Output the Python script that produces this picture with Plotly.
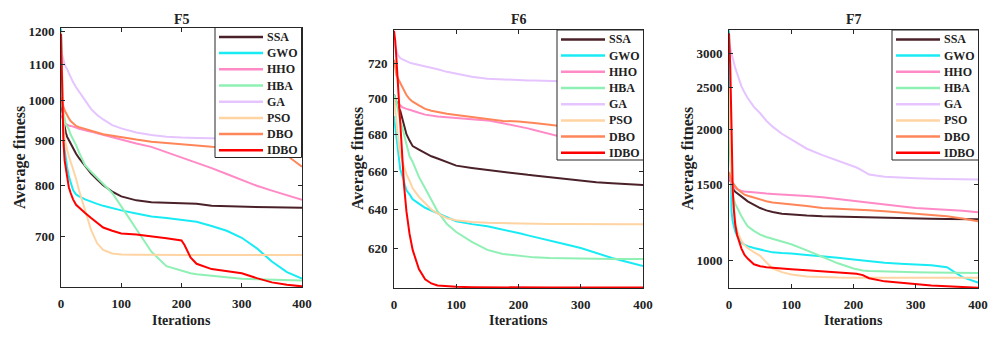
import numpy as np
import plotly.graph_objects as go

# algorithm names and line colours
ALGOS = ['SSA', 'GWO', 'HHO', 'HBA', 'GA', 'PSO', 'DBO', 'IDBO']
COLORS = ['#4a2129', '#19ebf4', '#ff8ac6', '#8ff0b4', '#e5c4ff', '#ffd4a3', '#ff8659', '#ff0000']

ITERS = [0, 2, 4, 6, 8, 10, 13, 16, 20, 25, 30, 40, 50, 60, 70, 85, 100,
         125, 150, 175, 200, 205, 215, 225, 250, 275, 300, 325, 350, 375, 400]
X_TICKS = [0, 100, 200, 300, 400]

# ---- F5 ----
F5_SSA = [1000, 975, 955, 935, 920, 910, 902, 893, 882, 870, 860, 843, 826, 813, 801, 788, 778,
          770, 766, 765, 764, 764, 763.5, 763, 759, 758, 757.5, 757, 756, 755.5, 755]
F5_GWO = [1208, 1000, 920, 880, 855, 841, 820, 805, 791, 782, 778, 772, 767, 763, 759, 754, 750,
          744, 738, 735, 732, 731.5, 730, 728, 720, 711, 698, 679, 656, 638, 627]
F5_HHO = [963, 955, 948, 943, 940, 938, 937, 936, 935, 932, 929, 926, 922, 918, 914, 908, 902,
          894, 886, 874, 862, 860, 855, 850, 838, 825, 812, 800, 790, 780, 771]
F5_HBA = [1000, 985, 965, 950, 940, 935, 928, 915, 905, 890, 873, 844, 830, 817, 803, 785, 758,
          714, 673, 648, 640, 638, 636, 634.5, 632, 629, 627, 626, 625, 624.5, 624]
F5_GA = [1140, 1125, 1110, 1100, 1092, 1087, 1075, 1063, 1050, 1036, 1023, 1001, 978, 963, 952, 938, 930,
         920, 914, 910, 908, 908, 907, 907, 906, 905, 905, 904, 904, 903, 902]
F5_PSO = [1200, 1050, 950, 905, 890, 880, 865, 852, 838, 815, 790, 750, 712, 688, 676, 670, 668,
          667.5, 667, 667, 667, 667, 667, 667, 667, 667, 667, 667, 667, 667, 667]
F5_DBO = [1010, 995, 985, 975, 968, 962, 955, 948, 942, 936, 933, 928, 924, 920, 916, 912, 909,
          903, 898, 895, 891, 891, 890, 889, 886, 884, 882, 879, 875, 866, 841]
F5_IDBO = [1192, 1000, 900, 855, 835, 815, 797, 785, 772, 761, 755, 745, 735, 726, 717, 711, 706,
           704, 701, 697, 693, 685, 663, 652, 643, 639, 636, 628, 621, 617, 614.5]

# ---- F6 ----
F6_SSA = [702, 700, 697, 695, 694, 693, 689, 685, 680, 676.5, 673.5, 671.6, 669.7, 668, 666.8, 664.8, 663,
          661.8, 660.7, 659.5, 658.5, 658.4, 658.1, 657.8, 656.8, 656, 655, 654.2, 653.6, 653.1, 652.7]
F6_GWO = [690, 684, 676, 670, 665, 661, 658, 655, 650, 647.8, 645.3, 643, 640.9, 639.5, 638, 636, 634,
          632.5, 631.4, 629.8, 628, 627.6, 626.8, 626, 624, 622.3, 620.5, 618, 615.5, 613.5, 611.5]
F6_HHO = [697, 696.5, 696, 696, 696, 696, 695, 694.5, 694, 693.5, 692.8, 691.8, 690.8, 690.2, 689.8, 689.4, 689,
          688.3, 687.6, 686, 684.5, 684.1, 683.2, 682.3, 680, 678, 676.5, 675, 674, 673, 672]
F6_HBA = [702, 700, 698, 694, 690, 687, 684, 680, 674, 668, 665, 657, 651, 645, 639, 632.5, 628.5,
          623.5, 619.5, 617.5, 616.6, 616.4, 616, 615.8, 615.5, 615.3, 615.2, 615.1, 615, 615, 615]
F6_GA = [733, 730, 727, 725, 724, 723, 722.3, 721.7, 721, 720.3, 719.8, 719, 718.4, 717.6, 716.5, 715, 714,
         712.2, 711, 710.5, 710.2, 710.2, 710.1, 710, 709.8, 709.5, 709.2, 709, 708.8, 708.5, 708.3]
F6_PSO = [700, 693, 685, 678, 673, 669, 666, 662, 658.5, 655, 651, 646.5, 643, 640, 638, 635.5, 634.5,
          633.6, 633.2, 633, 632.8, 632.8, 632.7, 632.7, 632.6, 632.6, 632.5, 632.5, 632.5, 632.5, 632.5]
F6_DBO = [722, 716, 713, 711.5, 710, 709, 706.5, 704, 701.8, 699.5, 698, 696, 694, 693, 692.2, 691.3, 690.6,
          689.5, 688, 687.3, 687, 686.9, 686.5, 686.2, 685.2, 684, 683, 682, 681, 680.5, 680]
F6_IDBO = [739, 733, 722, 710, 697, 684, 663.5, 653, 639, 627.5, 619.5, 610, 605, 603, 602, 601.6, 601.4,
           601.2, 601.1, 601.05, 601, 601, 601, 601, 601, 601, 601, 601, 601, 601, 601]

# ---- F7 ----
F7_SSA = [1560, 1530, 1500, 1470, 1450, 1440, 1428, 1418, 1405, 1387, 1369, 1343, 1321, 1305, 1293, 1282, 1276,
          1270, 1265, 1262, 1260, 1260, 1259, 1257, 1253, 1251, 1249, 1248, 1247, 1247, 1244]
F7_GWO = [3390, 2200, 1300, 1230, 1190, 1165, 1140, 1120, 1100, 1087, 1079, 1068, 1060, 1052, 1044, 1040, 1038,
          1030, 1023, 1014, 1005, 1003, 1000, 996, 988, 983, 979, 975, 965, 915, 889]
F7_HHO = [1563, 1530, 1505, 1490, 1478, 1469, 1460, 1453, 1447, 1443, 1440, 1435, 1430, 1427, 1424, 1421, 1418,
          1408, 1398, 1384, 1369, 1367, 1362, 1357, 1345, 1333, 1321, 1315, 1310, 1302, 1292]
F7_HBA = [1900, 1700, 1500, 1420, 1380, 1350, 1325, 1295, 1265, 1230, 1199, 1170, 1147, 1133, 1122, 1107, 1090,
          1055, 1018, 985, 958, 954, 948, 945, 942, 940, 939, 938, 937, 936, 936]
F7_GA = [3170, 3080, 3000, 2900, 2830, 2780, 2700, 2620, 2520, 2440, 2370, 2260, 2185, 2100, 2035, 1960, 1900,
         1810, 1750, 1700, 1648, 1638, 1610, 1578, 1560, 1552, 1547, 1543, 1541, 1539, 1537]
F7_PSO = [2500, 1900, 1600, 1420, 1300, 1230, 1170, 1140, 1110, 1085, 1068, 1045, 1025, 990, 958, 940, 928,
          918, 914, 913, 912.5, 912.5, 912, 912, 912, 912, 912, 912, 912, 912, 912]
F7_DBO = [1600, 1560, 1530, 1510, 1495, 1482, 1465, 1450, 1433, 1418, 1410, 1395, 1381, 1370, 1360, 1354, 1350,
          1335, 1321, 1317, 1314, 1313, 1310, 1306, 1298, 1290, 1282, 1273, 1264, 1250, 1231]
F7_IDBO = [3340, 2800, 2050, 1450, 1300, 1210, 1145, 1105, 1065, 1030, 1010, 980, 970, 965, 962, 958, 955,
           950, 945, 940, 935, 932, 925, 910, 895, 888, 882, 876, 872, 868, 865]

F5_TICKS = [700, 800, 900, 1000, 1100, 1200]
F6_TICKS = [620, 640, 660, 680, 700, 720]
F7_TICKS = [1000, 1500, 2000, 2500, 3000]

W, H = 1006, 348
FONT = 'Liberation Serif'
INK = '#262626'


def px(x):
    return x / W


def py(y):
    return 1 - y / H


def label(text, x, y, size, **kw):
    return dict(text=text, x=px(x), y=py(y), xref='paper', yref='paper', showarrow=False,
                xanchor=kw.pop('xanchor', 'center'), yanchor='middle',
                font=dict(family=FONT, size=size, color='#222', weight='bold'), **kw)


# title, series, y range, y ticks, plot box (left, right, top, bottom) in px, y-title x, legend top-left
panels = [
    ('F5', [F5_SSA, F5_GWO, F5_HHO, F5_HBA, F5_GA, F5_PSO, F5_DBO, F5_IDBO], (613.5, 1210), F5_TICKS,
     (61, 302, 28, 287), 19.5, (215, 27.5)),
    ('F6', [F6_SSA, F6_GWO, F6_HHO, F6_HBA, F6_GA, F6_PSO, F6_DBO, F6_IDBO], (600.8, 739.5), F6_TICKS,
     (394, 643, 30, 288), 358, (557, 30)),
    ('F7', [F7_SSA, F7_GWO, F7_HHO, F7_HBA, F7_GA, F7_PSO, F7_DBO, F7_IDBO], (864, 3400), F7_TICKS,
     (729, 978, 30, 288), 688, (892, 30)),
]

axis_style = dict(showline=True, linecolor=INK, linewidth=1, mirror='ticks', ticks='inside',
                  ticklen=4, tickcolor=INK, showgrid=False, zeroline=False, automargin=False,
                  tickfont=dict(family=FONT, size=13, color='#222', weight='bold'))

fig = go.Figure()
shapes = []
annotations = []

for k, (title, series, yr, yticks, (x0, x1, y0, y1), ytx, (lx, ly)) in enumerate(panels):
    n = '' if k == 0 else str(k + 1)
    for name, color, vals in zip(ALGOS, COLORS, series):
        fig.add_trace(go.Scatter(x=ITERS, y=vals, mode='lines', name=name,
                                 line=dict(color=color, width=2), showlegend=False,
                                 xaxis='x' + n, yaxis='y' + n))
    fig.update_layout({
        'xaxis' + n: dict(domain=[px(x0), px(x1)], range=[0, 400], anchor='y' + n,
                          tickvals=X_TICKS, ticklabelstandoff=4, **axis_style),
        'yaxis' + n: dict(domain=[py(y1), py(y0)], type='log', anchor='x' + n,
                          range=[np.log10(yr[0]), np.log10(yr[1])],
                          tickvals=yticks, ticktext=[str(v) for v in yticks],
                          ticklabelstandoff=3, **axis_style),
    })
    cx = (x0 + x1) / 2
    annotations.append(label(title, cx, 19.5, 14))
    annotations.append(label('Iterations', cx, 320, 14))
    annotations.append(label('Average fitness', ytx, (y0 + y1) / 2, 16, textangle=-90))

    # legend box drawn by hand to match the compact MATLAB legend
    shapes.append(dict(type='rect', xref='paper', yref='paper', x0=px(lx), x1=px(lx + 86.5),
                       y0=py(ly + 130), y1=py(ly), line=dict(color=INK, width=1), fillcolor='white'))
    for i, (name, color) in enumerate(zip(ALGOS, COLORS)):
        yy = ly + 9.4 + 16.2 * i
        shapes.append(dict(type='line', xref='paper', yref='paper', x0=px(lx + 4), x1=px(lx + 48),
                           y0=py(yy), y1=py(yy), line=dict(color=color, width=2.5)))
        annotations.append(label(name, lx + 50, yy, 12, xanchor='left'))

fig.update_layout(width=W, height=H, margin=dict(l=0, r=0, t=0, b=0, pad=0),
                  paper_bgcolor='white', plot_bgcolor='white',
                  shapes=shapes, annotations=annotations)

fig.write_html("out.html", config={'displayModeBar': False},
               post_script="document.body.style.margin='0';")
